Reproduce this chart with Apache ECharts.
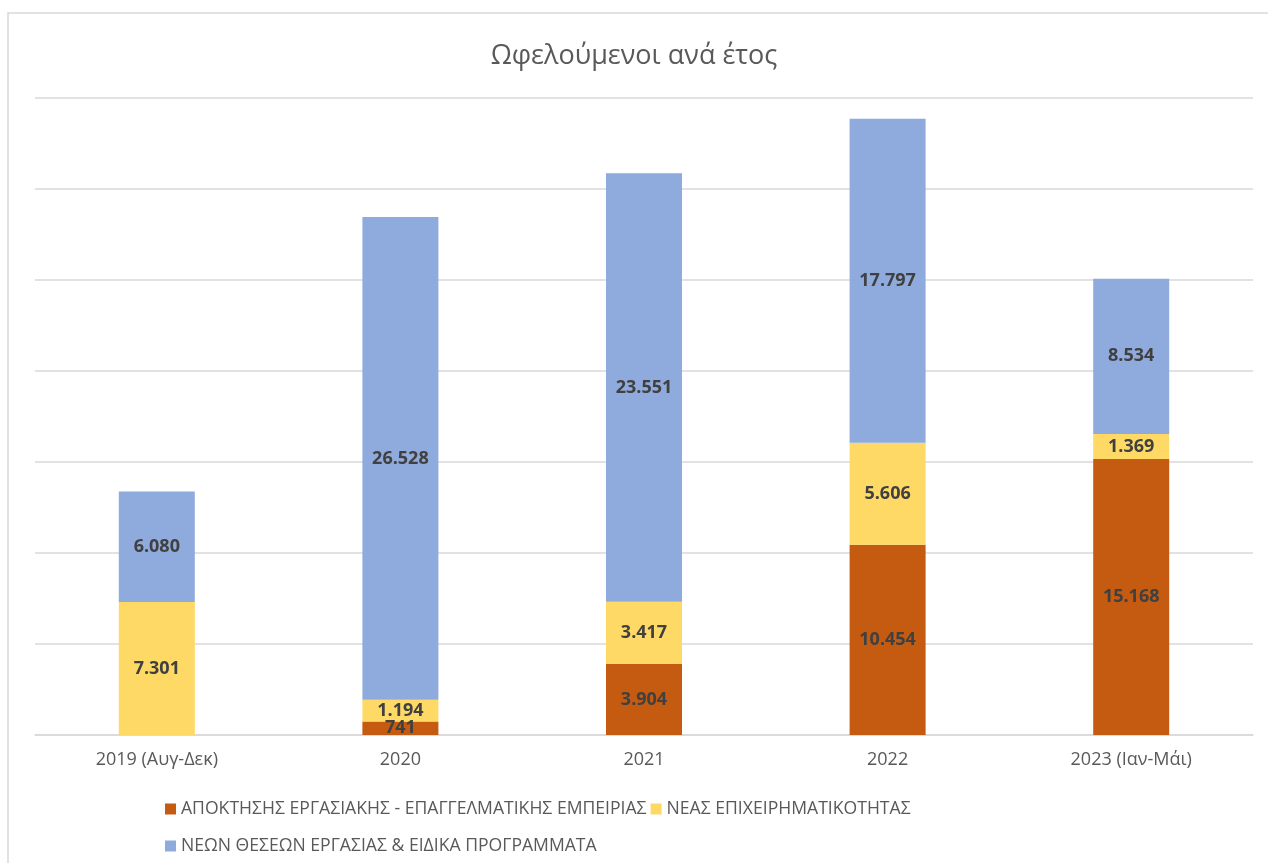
<!DOCTYPE html>
<html>
<head>
<meta charset="utf-8">
<script src="https://cdn.jsdelivr.net/npm/echarts@6/dist/echarts.min.js"></script>
<style>
  html, body { margin: 0; padding: 0; background: #fff; }
  #chart { width: 1268px; height: 863px; }
</style>
</head>
<body>
<div id="chart"></div>
<script>
const categories = ['2019 (Αυγ-Δεκ)', '2020', '2021', '2022', '2023 (Ιαν-Μάι)']
const experience = [null, 741, 3904, 10454, 15168]
const entrepreneurship = [7301, 1194, 3417, 5606, 1369]
const newJobs = [6080, 26528, 23551, 17797, 8534]

const names = [
  'ΑΠΟΚΤΗΣΗΣ ΕΡΓΑΣΙΑΚΗΣ - ΕΠΑΓΓΕΛΜΑΤΙΚΗΣ ΕΜΠΕΙΡΙΑΣ',
  'ΝΕΑΣ ΕΠΙΧΕΙΡΗΜΑΤΙΚΟΤΗΤΑΣ',
  'ΝΕΩΝ ΘΕΣΕΩΝ ΕΡΓΑΣΙΑΣ & ΕΙΔΙΚΑ ΠΡΟΓΡΑΜΜΑΤΑ'
]
const colors = ['#c55a11', '#ffd966', '#8faadc']

const fmt = v => v == null ? '' : v.toLocaleString('de-DE')

const mkSeries = (name, data, color) => ({
  name,
  type: 'bar',
  stack: 'total',
  barWidth: 76,
  data,
  itemStyle: { color },
  label: {
    show: true,
    position: 'inside',
    fontFamily: 'Open Sans',
    fontWeight: 'bold',
    fontSize: 18,
    color: '#404040',
    formatter: p => fmt(p.value)
  }
})

const legendText = { fontFamily: 'Open Sans', fontSize: 17.6, color: '#595959' }

const chart = echarts.init(document.getElementById('chart'))
chart.setOption({
  backgroundColor: '#fff',
  animation: false,
  title: {
    text: 'Ωφελούμενοι ανά έτος',
    left: 'center',
    top: 38,
    textStyle: { fontFamily: 'Open Sans', fontSize: 27, fontWeight: 'normal', color: '#595959' }
  },
  graphic: [{
    type: 'rect',
    shape: { x: 8, y: 13, width: 1280, height: 900 },
    style: { fill: 'none', stroke: '#d9d9d9', lineWidth: 1.5 },
    silent: true
  }],
  legend: [
    {
      data: [names[0], names[1]],
      left: 160, top: 795,
      itemWidth: 11, itemHeight: 11, itemGap: 4,
      icon: 'rect',
      textStyle: legendText
    },
    {
      data: [names[2]],
      left: 160, top: 832,
      itemWidth: 11, itemHeight: 11,
      icon: 'rect',
      textStyle: legendText
    }
  ],
  grid: { left: 35, right: 15, top: 98, bottom: 128 },
  xAxis: {
    type: 'category',
    data: categories,
    axisLine: { lineStyle: { color: '#d9d9d9', width: 1.5 } },
    axisTick: { show: false },
    axisLabel: { fontFamily: 'Open Sans', fontSize: 18, color: '#595959', margin: 16 }
  },
  yAxis: {
    type: 'value',
    min: 0, max: 35000, interval: 5000,
    axisLabel: { show: false },
    axisLine: { show: false },
    axisTick: { show: false },
    splitLine: { lineStyle: { color: '#d9d9d9', width: 1.5 } }
  },
  series: [
    mkSeries(names[0], experience, colors[0]),
    mkSeries(names[1], entrepreneurship, colors[1]),
    mkSeries(names[2], newJobs, colors[2])
  ]
})
</script>
</body>
</html>
